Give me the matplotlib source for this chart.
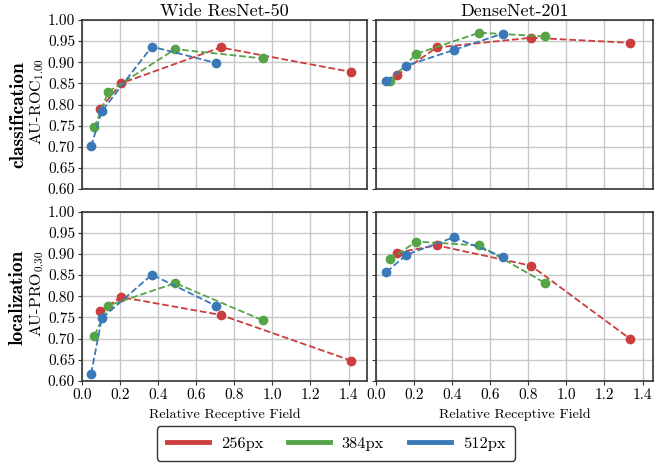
import matplotlib
matplotlib.use('Agg')
import matplotlib.pyplot as plt
from matplotlib.lines import Line2D

plt.rcParams['font.family'] = 'serif'
plt.rcParams['font.serif'] = ['cmr10']
plt.rcParams['mathtext.fontset'] = 'cm'
plt.rcParams['axes.formatter.use_mathtext'] = True

models = ['Wide ResNet-50', 'DenseNet-201']
resolutions = ['256px', '384px', '512px']
colors = ['#cc3d3d', '#55a448', '#3a78b8']

# relative receptive field per model and resolution
rf_wide = [[0.095, 0.205, 0.728, 1.415],
           [0.065, 0.138, 0.490, 0.950],
           [0.048, 0.104, 0.367, 0.706]]
rf_dense = [[0.109, 0.319, 0.815, 1.336],
            [0.072, 0.212, 0.543, 0.889],
            [0.055, 0.160, 0.408, 0.667]]

# classification AU-ROC
roc_wide = [[0.789, 0.850, 0.935, 0.877],
            [0.746, 0.830, 0.931, 0.909],
            [0.701, 0.784, 0.937, 0.898]]
roc_dense = [[0.869, 0.935, 0.958, 0.946],
             [0.856, 0.920, 0.970, 0.961],
             [0.855, 0.892, 0.929, 0.968]]

# localization AU-PRO
pro_wide = [[0.765, 0.798, 0.756, 0.648],
            [0.707, 0.778, 0.831, 0.743],
            [0.617, 0.748, 0.851, 0.777]]
pro_dense = [[0.903, 0.920, 0.872, 0.699],
             [0.887, 0.929, 0.920, 0.831],
             [0.857, 0.898, 0.939, 0.893]]

fig = plt.figure(figsize=(6.54, 4.65), dpi=100)
W, H = 654, 465
def box(x0, y0, x1, y1):
    return [x0 / W, 1 - y1 / H, (x1 - x0) / W, (y1 - y0) / H]

axes = [[fig.add_axes(box(82, 20, 367, 189)), fig.add_axes(box(376, 20, 653, 189))],
        [fig.add_axes(box(82, 211.5, 367, 381)), fig.add_axes(box(376, 211.5, 653, 381))]]

panels = [[(rf_wide, roc_wide), (rf_dense, roc_dense)],
          [(rf_wide, pro_wide), (rf_dense, pro_dense)]]

for r in range(2):
    for c in range(2):
        ax = axes[r][c]
        xs, ys = panels[r][c]
        for k in range(3):
            ax.plot(xs[k], ys[k], '--o', color=colors[k], lw=1.3, ms=6, zorder=3)
        ax.set_ylim(0.6, 1.0)
        ax.set_yticks([0.6 + 0.05 * i for i in range(9)])
        ax.set_xlim(0, 1.497 if c == 0 else 1.455)
        ax.set_xticks([0.2 * i for i in range(8)])
        ax.grid(True, color='#c8c8c8', lw=1.0)
        ax.set_axisbelow(True)
        for s in ax.spines.values():
            s.set_color('#333333')
            s.set_linewidth(1.2)
        ax.tick_params(labelsize=11, length=3, pad=2, color='#333333')
        if c == 0:
            ax.yaxis.set_major_formatter(matplotlib.ticker.FormatStrFormatter('%.2f'))
        else:
            ax.set_yticklabels([])
        if r == 0:
            ax.set_xticklabels([])
            ax.tick_params(axis='x', length=0)
            ax.set_title(models[c], fontsize=13, pad=3)
        else:
            ax.xaxis.set_major_formatter(matplotlib.ticker.FormatStrFormatter('%.1f'))
            ax.set_xlabel('Relative Receptive Field', fontsize=10.2, labelpad=5)

fig.text(37 / W, 1 - 101 / H, 'AU-ROC$_{1.00}$', rotation=90, fontsize=11.5,
         ha='center', va='center')
fig.text(37 / W, 1 - 294 / H, 'AU-PRO$_{0.30}$', rotation=90, fontsize=11.5,
         ha='center', va='center')
fig.text(18 / W, 1 - 115 / H, 'classification', rotation=90, fontsize=14,
         family='cmb10', ha='center', va='center')
fig.text(18 / W, 1 - 297 / H, 'localization', rotation=90, fontsize=14,
         family='cmb10', ha='center', va='center')

handles = [Line2D([0], [0], color=colors[k], lw=3.5) for k in range(3)]
leg = fig.legend(handles, resolutions, loc='center', bbox_to_anchor=(336 / W, 1 - 443.5 / H),
                 ncol=3, fontsize=11.8, frameon=True, fancybox=True, handlelength=2.6,
                 columnspacing=1.5, borderpad=0.6, handletextpad=0.7)
leg.get_frame().set_edgecolor('black')
leg.get_frame().set_linewidth(1.0)

fig.savefig('out.png', dpi=100)
